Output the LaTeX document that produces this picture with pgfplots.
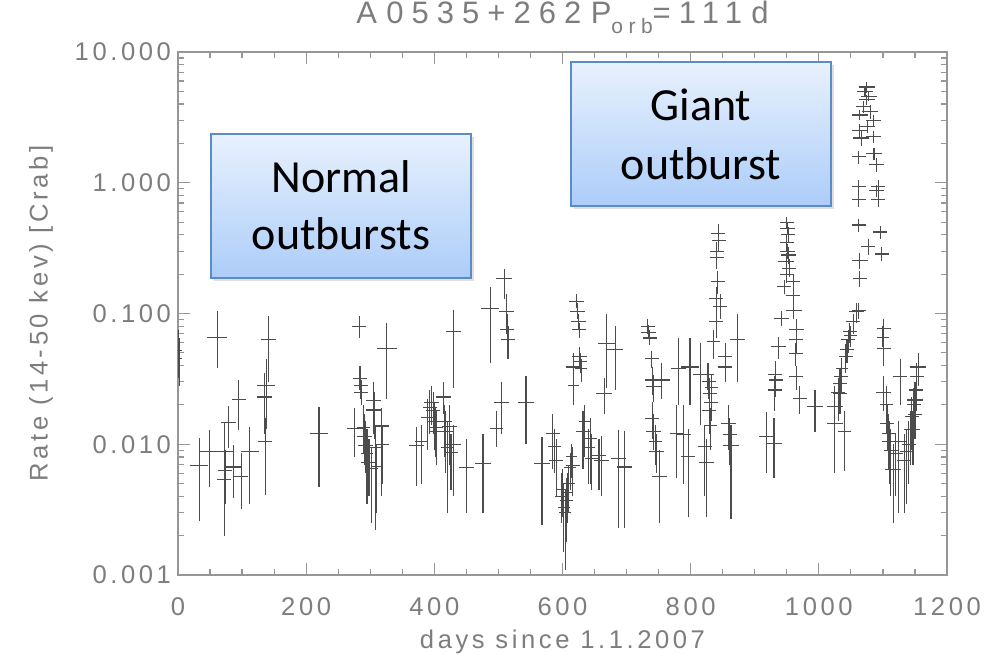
\documentclass[border=0pt]{standalone}
\usepackage{fontspec}
\usepackage{pgfplots}
\pgfplotsset{compat=1.18}
\usepackage{pgfplotstable}
\usetikzlibrary{shadows}
\setmainfont{Liberation Sans}
\newfontfamily\idl{Liberation Sans}[LetterSpace=14]
\newfontfamily\idltitle{Liberation Sans}[LetterSpace=26]
\newfontfamily\boxfont{Carlito}
\definecolor{idltext}{RGB}{125,125,125}
\definecolor{idlaxis}{RGB}{150,150,150}
\definecolor{boxtop}{RGB}{232,241,253}
\definecolor{boxbot}{RGB}{172,205,249}
\definecolor{boxedge}{RGB}{91,140,200}

\pgfplotstableread{
x y xe lo hi
1 0.052 5 0.032 0.075
2 0.045 5 0.028 0.065
33 0.0069 14 0.0026 0.0112
49 0.0088 16 0.0047 0.0129
61 0.066 15 0.038 0.104
72 0.0054 11 0.002 0.008
73 0.0088 13 0.005 0.0145
74 0.0063 11 0.0035 0.009
79 0.0146 12 0.0093 0.0195
86 0.0067 12 0.0039 0.0099
95 0.022 11 0.0129 0.031
99 0.0057 11 0.0032 0.0085
112 0.0088 14 0.0035 0.0135
135 0.023 12 0.012 0.035
136 0.0105 11 0.0041 0.016
138 0.028 14 0.013 0.045
141 0.063 12 0.03 0.095
220 0.0121 14 0.0047 0.0193
276 0.0133 12 0.008 0.019
283 0.079 11 0.065 0.095
284 0.032 11 0.026 0.04
285 0.028 11 0.022 0.034
286 0.025 11 0.02 0.031
289 0.0135 10 0.0085 0.02
291 0.0115 11 0.007 0.017
293 0.0098 12 0.006 0.015
295 0.0085 10 0.0035 0.013
298 0.0072 12 0.004 0.011
302 0.0065 10 0.0025 0.0095
305 0.0215 11 0.012 0.03
306 0.0183 12 0.011 0.025
308 0.0095 11 0.0022 0.014
310 0.0068 9 0.003 0.01
318 0.0138 11 0.004 0.019
319 0.0100 11 0.005 0.014
326 0.054 15 0.022 0.084
372 0.0098 12 0.0048 0.0135
380 0.0105 10 0.005 0.014
390 0.016 11 0.009 0.022
393 0.019 11 0.012 0.026
396 0.021 12 0.014 0.028
398 0.018 11 0.012 0.025
400 0.015 12 0.009 0.021
402 0.0135 11 0.008 0.019
404 0.0125 10 0.007 0.018
414 0.023 12 0.017 0.03
416 0.015 11 0.008 0.02
418 0.0125 11 0.006 0.018
420 0.0095 10 0.003 0.015
424 0.0136 12 0.007 0.02
426 0.0086 11 0.0045 0.012
430 0.0100 12 0.004 0.014
430 0.0726 12 0.027 0.106
450 0.0066 12 0.003 0.011
476 0.0071 12 0.003 0.012
487 0.11 14 0.042 0.16
497 0.0132 10 0.0095 0.018
505 0.021 12 0.012 0.03
509 0.184 12 0.13 0.22
513 0.104 12 0.07 0.14
514 0.075 11 0.05 0.1
515 0.063 11 0.045 0.08
543 0.021 12 0.0101 0.033
568 0.0071 12 0.0024 0.0113
585 0.0121 11 0.0065 0.017
587 0.0096 10 0.006 0.013
590 0.0075 11 0.004 0.011
598 0.0040 9 0.0025 0.006
600 0.0045 10 0.0028 0.0065
602 0.0033 9 0.0015 0.005
604 0.0030 9 0.0011 0.0045
606 0.0037 10 0.0018 0.0055
608 0.0043 9 0.0025 0.006
610 0.0050 10 0.003 0.007
612 0.0066 9 0.0045 0.0085
614 0.0081 9 0.0055 0.01
616 0.0069 11 0.004 0.0095
617 0.039 11 0.028 0.05
617 0.028 9 0.02 0.038
622 0.123 12 0.11 0.14
623 0.103 12 0.09 0.12
625 0.087 12 0.075 0.1
626 0.075 11 0.065 0.085
627 0.047 12 0.04 0.055
628 0.043 11 0.035 0.05
629 0.038 10 0.03 0.045
632 0.0125 11 0.0065 0.018
635 0.015 10 0.008 0.02
641 0.0095 10 0.005 0.013
643 0.011 11 0.005 0.016
645 0.0078 10 0.0045 0.012
657 0.0082 11 0.0045 0.011
661 0.0075 12 0.004 0.0115
665 0.0245 12 0.017 0.032
669 0.059 13 0.027 0.1
682 0.053 12 0.026 0.08
687 0.0078 12 0.0023 0.0129
697 0.0067 12 0.0023 0.0126
733 0.079 11 0.07 0.09
734 0.072 12 0.064 0.082
736 0.065 11 0.057 0.075
739 0.045 11 0.038 0.052
740 0.0158 11 0.011 0.021
741 0.031 12 0.024 0.039
742 0.0275 11 0.021 0.034
742 0.0125 11 0.009 0.017
745 0.0105 10 0.007 0.014
747 0.0088 12 0.006 0.012
751 0.0057 12 0.0025 0.009
755 0.031 12 0.022 0.042
778 0.0121 11 0.0055 0.02
781 0.038 12 0.02 0.065
789 0.0118 11 0.005 0.02
796 0.0081 11 0.0028 0.013
799 0.039 14 0.02 0.065
815 0.034 12 0.014 0.06
822 0.0096 11 0.004 0.014
825 0.0073 12 0.0028 0.011
827 0.034 10 0.026 0.042
828 0.030 11 0.022 0.038
829 0.018 11 0.012 0.024
830 0.0245 11 0.017 0.032
831 0.014 10 0.009 0.019
832 0.021 11 0.015 0.028
833 0.027 10 0.02 0.034
835 0.061 10 0.045 0.075
840 0.13 11 0.1 0.16
840 0.0866 11 0.065 0.11
841 0.27 11 0.22 0.33
841 0.30 11 0.25 0.35
842 0.175 11 0.14 0.21
843 0.41 11 0.35 0.48
844 0.36 11 0.3 0.42
846 0.113 11 0.09 0.14
854 0.047 11 0.035 0.06
854 0.039 11 0.03 0.048
859 0.0145 11 0.009 0.02
861 0.0118 11 0.007 0.016
863 0.0098 12 0.0027 0.014
873 0.063 12 0.03 0.1
918 0.0114 12 0.006 0.0175
930 0.0102 12 0.0055 0.016
931 0.026 11 0.018 0.033
932 0.034 11 0.025 0.043
933 0.031 11 0.023 0.04
937 0.0557 11 0.045 0.066
942 0.092 12 0.08 0.105
946 0.16 11 0.14 0.18
949 0.25 12 0.22 0.29
950 0.2 11 0.17 0.23
950 0.35 11 0.3 0.4
950 0.5 11 0.45 0.55
951 0.3 12 0.26 0.34
951 0.45 12 0.4 0.5
952 0.4 11 0.35 0.46
953 0.28 12 0.24 0.32
954 0.22 11 0.19 0.26
960 0.175 11 0.15 0.2
960 0.138 11 0.12 0.16
961 0.106 12 0.09 0.12
964 0.0497 11 0.04 0.06
965 0.075 12 0.06 0.09
965 0.063 11 0.05 0.075
965 0.033 11 0.026 0.04
970 0.0225 11 0.017 0.028
994 0.0194 12 0.0124 0.026
1025 0.0194 12 0.006 0.028
1025 0.0145 12 0.008 0.02
1030 0.025 11 0.015 0.032
1033 0.029 11 0.02 0.038
1033 0.0245 11 0.017 0.032
1035 0.033 11 0.025 0.041
1036 0.038 10 0.03 0.046
1040 0.0125 10 0.0062 0.018
1042 0.047 11 0.035 0.058
1044 0.053 11 0.042 0.064
1046 0.063 11 0.05 0.075
1048 0.0726 11 0.06 0.085
1050 0.068 10 0.055 0.08
1054 0.0866 11 0.07 0.1
1059 0.103 12 0.085 0.12
1062 0.106 11 0.09 0.12
1062 0.475 11 0.42 0.53
1062 0.74 11 0.65 0.83
1062 0.93 11 0.82 1.05
1062 1.58 11 1.4 1.75
1064 0.186 11 0.16 0.21
1064 0.256 12 0.22 0.29
1064 2.5 12 2.2 2.8
1064 3.3 12 3.0 3.6
1066 2.2 12 1.9 2.5
1070 3.8 12 3.4 4.2
1072 5.0 12 4.5 5.5
1075 5.4 12 4.9 5.9
1075 4.3 12 3.9 4.7
1076 2.7 12 2.4 3.0
1077 0.325 11 0.28 0.37
1078 4.6 12 4.2 5.0
1080 3.5 12 3.1 3.9
1085 3.0 12 2.7 3.3
1085 2.25 12 2.0 2.5
1086 1.68 12 1.5 1.85
1090 1.37 12 1.2 1.55
1090 0.87 11 0.78 0.96
1093 0.74 11 0.65 0.83
1093 0.93 11 0.82 1.05
1096 0.42 11 0.37 0.47
1098 0.285 11 0.25 0.32
1100 0.066 10 0.055 0.08
1101 0.077 11 0.065 0.09
1101 0.054 11 0.04 0.065
1101 0.025 12 0.018 0.033
1105 0.02 10 0.012 0.028
1107 0.0145 11 0.009 0.02
1109 0.012 11 0.0065 0.017
1110 0.0105 11 0.005 0.015
1112 0.009 11 0.004 0.013
1116 0.0064 12 0.0025 0.01
1120 0.0085 11 0.004 0.012
1125 0.0105 11 0.003 0.015
1127 0.033 11 0.02 0.045
1133 0.0075 11 0.003 0.012
1137 0.0088 11 0.0035 0.013
1140 0.01 11 0.005 0.015
1143 0.013 10 0.007 0.018
1145 0.0163 11 0.009 0.023
1147 0.0129 11 0.007 0.018
1148 0.02 11 0.013 0.027
1150 0.0218 12 0.014 0.03
1150 0.017 11 0.011 0.022
1152 0.026 11 0.018 0.035
1153 0.033 11 0.025 0.042
1155 0.039 12 0.028 0.05
}\data

\begin{document}
\begin{tikzpicture}
\useasboundingbox (-89pt,-39pt) rectangle (408pt,287.5pt);
\begin{axis}[
  at={(0pt,0pt)}, anchor=south west, scale only axis,
  width=384.5pt, height=261.5pt,
  xmin=0, xmax=1200, ymin=0.001, ymax=10, ymode=log,
  xtick={0,200,...,1200}, xticklabels={0,200,400,600,800,1000,1200},
  minor x tick num=3,
  ytick={0.001,0.01,0.1,1,10}, yticklabels={0.001,0.010,0.100,1.000,10.000},
  tick align=inside, major tick length=6pt, minor tick length=3pt,
  axis line style={idlaxis, line width=0.6pt},
  tick style={idlaxis, line width=0.6pt},
  ticklabel style={font=\idl\fontsize{12.8}{14}\selectfont, text=idltext},
  xticklabel style={anchor=base, yshift=-20pt},
  xlabel={days since 1.1.2007}, ylabel={Rate (14-50 kev) [Crab]},
  label style={font=\idl\fontsize{12.8}{14}\selectfont, text=idltext},
  xlabel style={at={(axis description cs:0.5,-0.1396)}, anchor=base},
  ylabel style={at={(axis description cs:-0.178,0.5)}, anchor=center},
  title={A\hspace{0.3em}0535+262\hspace{0.3em}P\raisebox{-0.35em}{\fontsize{10.5}{10.5}\selectfont orb}=111\hspace{0.3em}d},
  title style={at={(axis description cs:0.5,1.0325)}, anchor=base, font=\idltitle\fontsize{15.5}{17}\selectfont, text=idltext},
]
\addplot[draw=none, mark=none,
  error bars/.cd, x dir=both, x explicit, y dir=both, y explicit, error mark=none,
  error bar style={draw=black!70, solid, line width=0.55pt}]
  table[x=x, y=y, x error=xe, y error plus expr=\thisrow{hi}-\thisrow{y}, y error minus expr=\thisrow{y}-\thisrow{lo}] {\data};
\end{axis}
\node[draw=boxedge, line width=1pt, top color=boxtop, bottom color=boxbot,
  minimum width=130pt, minimum height=72pt, inner sep=0pt,
  drop shadow={opacity=0.25, shadow xshift=1.5pt, shadow yshift=-1.5pt}] at (81.5pt,184.5pt) {};
\node[anchor=base, font=\boxfont\fontsize{23}{28}\selectfont] at (81.5pt,191pt) {Normal};
\node[anchor=base, font=\boxfont\fontsize{23}{28}\selectfont] at (81.5pt,162.5pt) {outbursts};
\node[draw=boxedge, line width=1pt, top color=boxtop, bottom color=boxbot,
  minimum width=130pt, minimum height=72pt, inner sep=0pt,
  drop shadow={opacity=0.25, shadow xshift=1.5pt, shadow yshift=-1.5pt}] at (261.5pt,220.5pt) {};
\node[anchor=base, font=\boxfont\fontsize{23}{28}\selectfont] at (261.5pt,227.2pt) {Giant};
\node[anchor=base, font=\boxfont\fontsize{23}{28}\selectfont] at (261.5pt,197.5pt) {outburst};
\end{tikzpicture}
\end{document}
